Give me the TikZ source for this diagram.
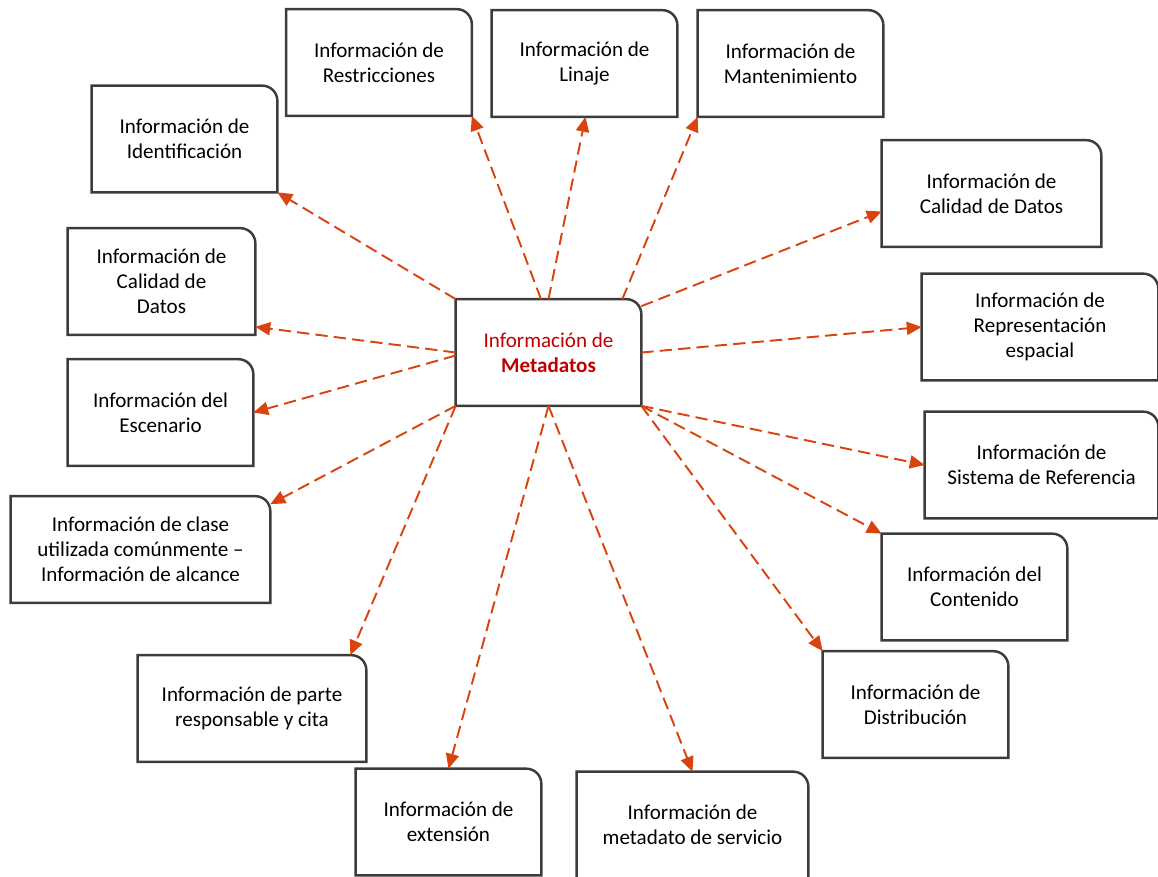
\documentclass[tikz,border=0pt]{standalone}
\usepackage{fontspec}
\setmainfont{Carlito}
\usetikzlibrary{arrows.meta}

\definecolor{linkred}{RGB}{217,68,14}
\definecolor{titlered}{RGB}{192,0,0}
\definecolor{boxgray}{RGB}{60,60,60}

\tikzset{
  infobox/.style={rectangle, minimum width=3.7cm, minimum height=2.12cm, inner sep=0pt,
    align=center, font=\fontsize{12}{14.2}\selectfont},
  boxline/.style={draw=boxgray, line width=1.4pt},
  link/.style={draw=linkred, line width=1.1pt, dash pattern=on 7pt off 3.5pt,
    -{Triangle[length=8.5pt,width=7.5pt,fill=linkred]}}
}

\begin{document}
\begin{tikzpicture}[x=0.02cm, y=-0.02cm]
					\useasboundingbox (0,0) rectangle (1158,876);
					\node[infobox](restr) at (379,62.5){Información de\\Restricciones};
					\node[infobox](linaje) at (584.5,63.5){Información de\\Linaje};
					\node[infobox](mant) at (790.5,63.5){Información de\\Mantenimiento};
					\node[infobox](ident) at (184.5,139){Información de\\Identificación};
					\node[infobox,minimum width=4.38cm](calR) at (991.5,193.5){Información de\\Calidad de Datos};
					\node[infobox,minimum width=3.74cm](calL) at (161.5,281.5){Información de\\Calidad de\\Datos};
					\node[infobox](meta) at (548.5,352.5){\textcolor{titlered}{Información de}\\\textcolor{titlered}{\bfseries Metadatos}};
					\node[infobox,minimum width=4.72cm](repr) at (1040,327){Información de\\Representación\\espacial};
					\node[infobox](esc) at (160.5,412.5){Información del\\Escenario};
					\node[infobox,minimum width=4.66cm](sist) at (1041.5,465){Información de\\Sistema de Referencia};
					\node[infobox,minimum width=5.18cm](clase) at (140.5,549.5){Información de clase\\utilizada comúnmente --\\Información de alcance};
					\node[infobox](cont) at (974.5,587){Información del\\Contenido};
					\node[infobox,minimum width=4.56cm](parte) at (252,708.5){Información de parte\\responsable y cita};
					\node[infobox](dist) at (915.5,704.5){Información de\\Distribución};
					\node[infobox](ext) at (448.5,822){Información de\\extensión};
					\node[infobox,minimum width=4.62cm](serv) at (692.5,825){Información de\\metadato de servicio};
					% borders, only the top right corner is rounded
					\foreach \n in {restr,linaje,mant,ident,calR,calL,meta,repr,esc,sist,clase,cont,parte,dist,ext,serv}
						\draw[boxline] (\n.south west) -- (\n.north west) -- ([xshift=-0.3cm]\n.north east)
							arc[start angle=90, end angle=0, radius=0.3cm] -- (\n.south east) -- cycle;
					\path[every edge/.style={link}]
						([xshift=-0.15cm]meta.north) edge (restr.south east)
						(meta.north) edge ([xshift=0.02cm]linaje.south)
						([xshift=-0.38cm]meta.north east) edge (mant.south west)
						(meta.north west) edge (ident.south east)
						([yshift=-0.14cm]meta.north east) edge ([yshift=-0.36cm]calR.west)
						(meta.west) edge ([yshift=0.16cm]calL.south east)
						(meta.east) edge (repr.west)
						([yshift=-0.06cm]meta.west) edge (esc.east)
						(meta.south east) edge (sist.west)
						(meta.south west) edge ([yshift=-0.16cm]clase.north east)
						(meta.south east) edge (cont.north west)
						(meta.south west) edge ([xshift=-0.32cm]parte.north east)
						(meta.south east) edge (dist.north west)
						(meta.south) edge (ext.north)
						(meta.south) edge (serv.north);
				\end{tikzpicture}
\end{document}
